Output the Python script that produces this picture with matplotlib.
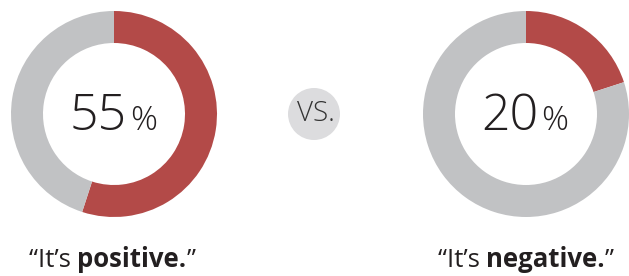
import matplotlib
matplotlib.use("Agg")
import matplotlib.pyplot as plt

# data
percents = [55, 20]
labels_pre = ["\u201cIt\u2019s ", "\u201cIt\u2019s "]
labels_bold = ["positive.", "negative."]
labels_post = ["\u201d", "\u201d"]

RED = "#b34a48"
GRAY = "#c1c2c4"
DARK = "#231f20"
FONT = "Open Sans"

W, H = 629, 276
fig = plt.figure(figsize=(W / 100, H / 100), dpi=100)
ax = fig.add_axes([0, 0, 1, 1])

centers = [(114, H - 114), (526, H - 114)]
outer, ring = 103, 32

for (cx, cy), p in zip(centers, percents):
    ax.pie([p, 100 - p], colors=[RED, GRAY], startangle=90, counterclock=False,
           center=(cx, cy), radius=outer, frame=True,
           wedgeprops=dict(width=ring, linewidth=0))

# vs. bubble
ax.add_patch(plt.Circle((314, H - 114), 26, color="#dcdcde", lw=0))
ax.text(316, H - 114, "VS.", ha="center", va="center", fontsize=20,
        family=FONT, fontweight="light", color="#333333")

ax.set_xlim(0, W)
ax.set_ylim(0, H)
ax.set_aspect("auto")
ax.axis("off")

fig.canvas.draw()
r = fig.canvas.get_renderer()
inv = ax.transData.inverted()


def width_data(t):
    bb = t.get_window_extent(r)
    return inv.transform((bb.x1, 0))[0] - inv.transform((bb.x0, 0))[0]


# centre numbers
for (cx, cy), p in zip(centers, percents):
    base = H - 130
    big = ax.text(0, base, str(p), fontsize=36, family=FONT, fontweight="light",
                  color=DARK, va="baseline", ha="left")
    pct = ax.text(0, base, "%", fontsize=24, family=FONT, fontweight="light",
                  color=DARK, va="baseline", ha="left")
    wb, wp, gap = width_data(big), width_data(pct), 3
    x0 = cx - 1 - (wb + gap + wp) / 2
    big.set_x(x0)
    pct.set_x(x0 + wb + gap)

# quotes below
label_cx = [112, 526]
for cx, a, b, c in zip(label_cx, labels_pre, labels_bold, labels_post):
    base = H - 267
    t1 = ax.text(0, base, a, fontsize=18.5, family=FONT, color=DARK, va="baseline")
    t2 = ax.text(0, base, b, fontsize=18.5, family=FONT, fontweight="bold",
                 color=DARK, va="baseline")
    t3 = ax.text(0, base, c, fontsize=18.5, family=FONT, color=DARK, va="baseline")
    w1, w2, w3 = width_data(t1), width_data(t2), width_data(t3)
    x0 = cx - (w1 + w2 + w3) / 2
    t1.set_x(x0)
    t2.set_x(x0 + w1)
    t3.set_x(x0 + w1 + w2)

fig.savefig("out.png", dpi=100)
